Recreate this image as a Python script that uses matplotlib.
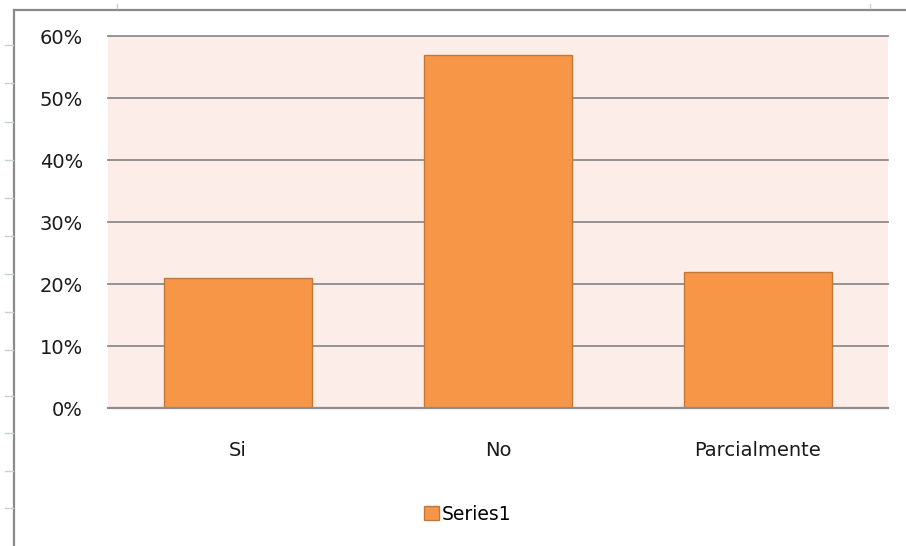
import matplotlib

matplotlib.use("Agg")
import matplotlib.pyplot as plt
from matplotlib.lines import Line2D
from matplotlib.ticker import FuncFormatter

categories = ["Si", "No", "Parcialmente"]
series1 = [0.21, 0.57, 0.22]
y_ticks = [0.0, 0.1, 0.2, 0.3, 0.4, 0.5, 0.6]

BAR_COLOR = "#F79646"
BAR_EDGE = "#C0783A"
PLOT_BG = "#FCEDE8"
GRID_COLOR = "#8C8C8C"

plt.rcParams["font.family"] = ["DejaVu Sans"]

fig = plt.figure(figsize=(9.06, 5.46), dpi=100)
fig.patch.set_facecolor("white")

# outer chart frame (left and top edges only are in view)
fig.add_artist(Line2D([14 / 906, 14 / 906], [0, 1 - 10 / 546], transform=fig.transFigure,
                      color="#8A8A8A", lw=1.6))
fig.add_artist(Line2D([14 / 906, 1], [1 - 10 / 546, 1 - 10 / 546], transform=fig.transFigure,
                      color="#8A8A8A", lw=1.6))
# faint sheet row/column markers behind the chart
for ypix in [45, 83, 122, 160, 198, 236, 274, 312, 350, 396, 433, 471, 508]:
    fig.add_artist(Line2D([5 / 906, 13 / 906], [1 - ypix / 546] * 2, transform=fig.transFigure,
                          color="#C8D0DC", lw=1))
for xpix in [117, 870]:
    fig.add_artist(Line2D([xpix / 906] * 2, [1 - 8 / 546, 1 - 4 / 546], transform=fig.transFigure,
                          color="#C8D0DC", lw=1))

ax = fig.add_axes([108 / 906, 1 - 408 / 546, 780 / 906, 372 / 546])
ax.set_facecolor(PLOT_BG)

x = range(len(categories))
ax.bar(x, series1, width=0.57, color=BAR_COLOR, edgecolor=BAR_EDGE, linewidth=1.0,
       label="Series1", zorder=3)

ax.set_xlim(-0.5, len(categories) - 0.5)
ax.set_ylim(0, 0.6)
ax.set_yticks(y_ticks)
ax.yaxis.set_major_formatter(FuncFormatter(lambda v, _: f"{v * 100:.0f}%"))
ax.set_xticks(list(x))
ax.set_xticklabels(categories)

ax.grid(axis="y", color=GRID_COLOR, linewidth=1.3, zorder=1)
for gl in ax.get_ygridlines():
    gl.set_clip_on(False)
ax.set_axisbelow(True)
for side in ["left", "right", "top"]:
    ax.spines[side].set_visible(False)
ax.spines["bottom"].set_color(GRID_COLOR)
ax.spines["bottom"].set_linewidth(1.6)
ax.spines["bottom"].set_zorder(4)

ax.tick_params(axis="y", length=0, pad=18, labelsize=14, labelcolor="#1a1a1a")
ax.tick_params(axis="x", length=0, pad=23.5, labelsize=14, labelcolor="#1a1a1a")

fig.legend(*ax.get_legend_handles_labels(), loc="center", bbox_to_anchor=(468 / 906, 1 - 514 / 546),
           frameon=False, fontsize=13.5, handlelength=0.8, handleheight=0.8, handletextpad=0.15)

fig.savefig("out.png", dpi=100)
